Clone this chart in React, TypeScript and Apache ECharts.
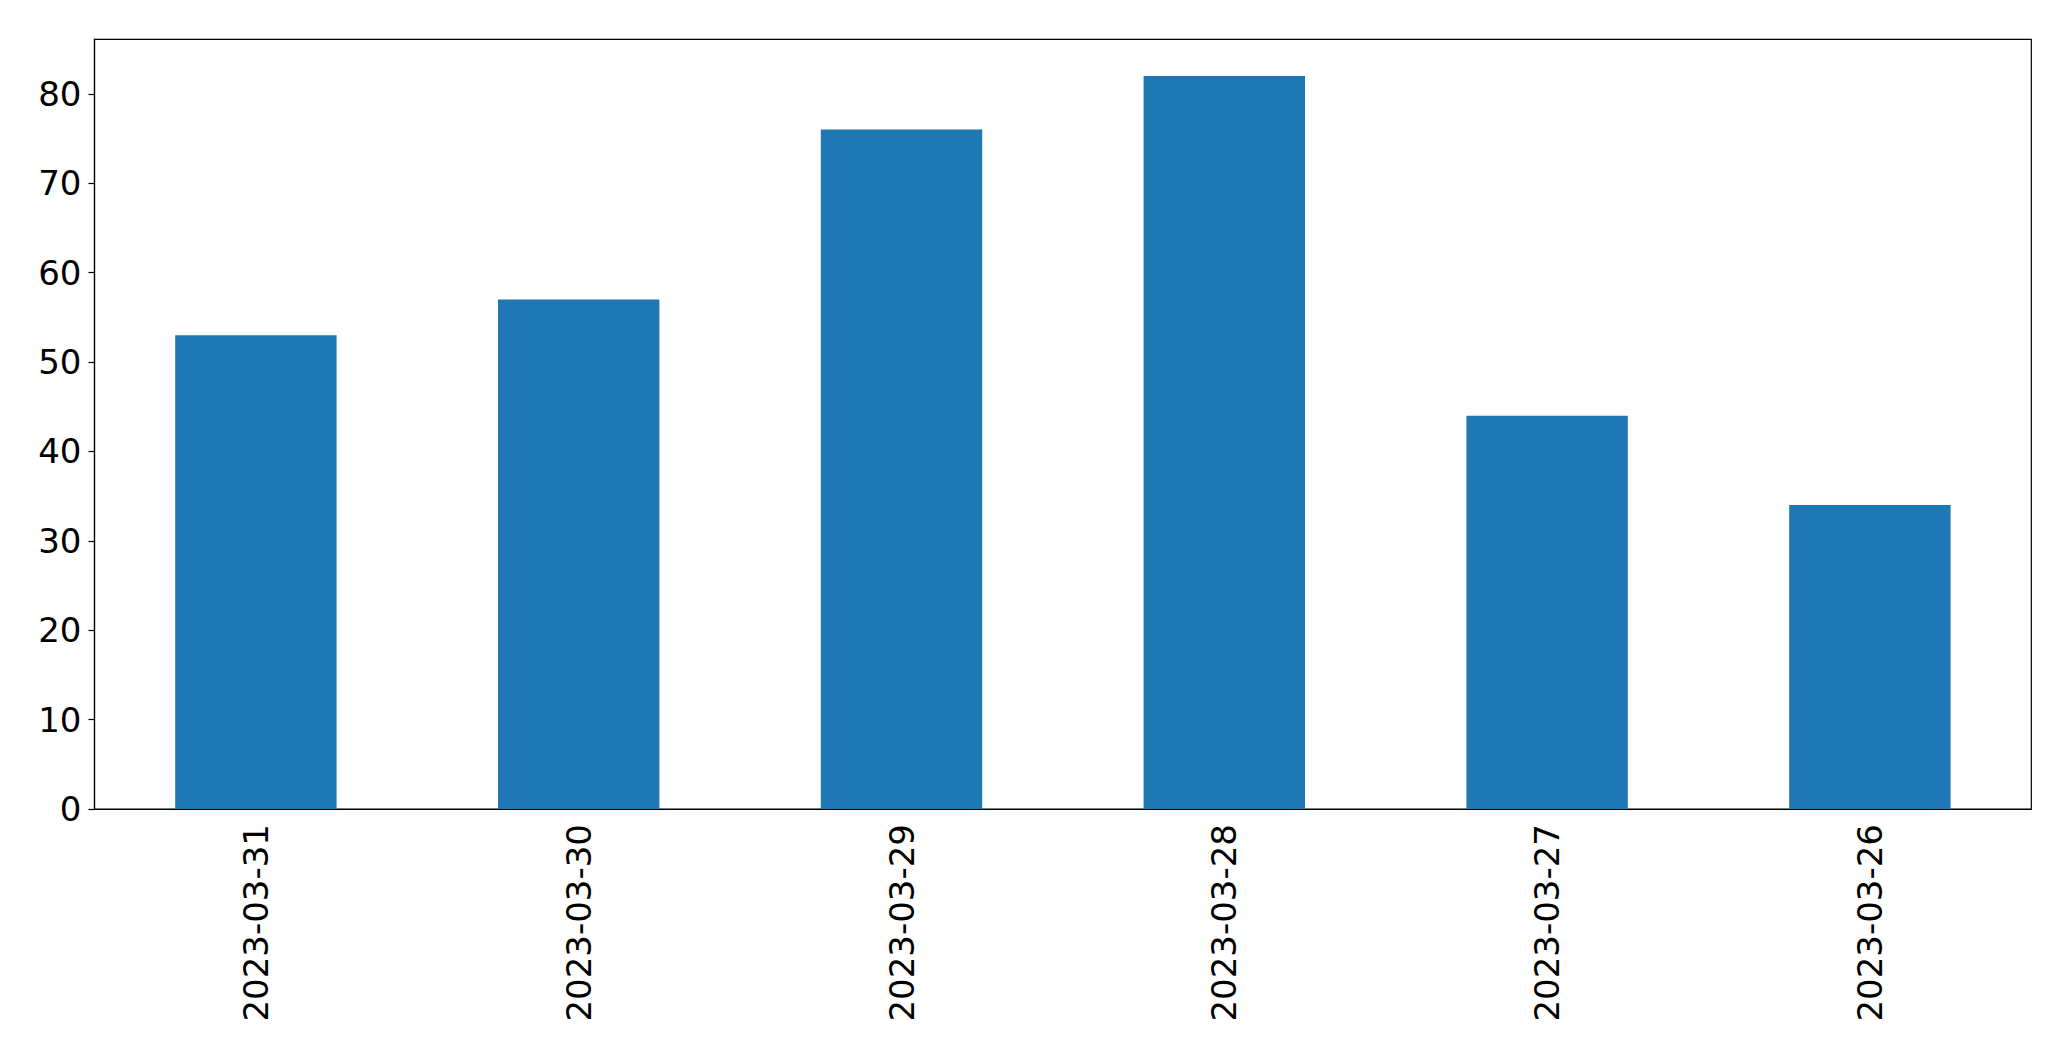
import React, { useEffect, useRef } from "react";
import * as echarts from "echarts";

const categories = ["2023-03-31", "2023-03-30", "2023-03-29", "2023-03-28", "2023-03-27", "2023-03-26"];
const values = [53, 57, 76, 82, 44, 34];
const yTicks = [0, 10, 20, 30, 40, 50, 60, 70, 80];

export default function App() {
  const ref = useRef<HTMLDivElement>(null);
  useEffect(() => {
    if (!ref.current) return;
    const chart = echarts.init(ref.current, null, { renderer: "svg" });
    const font = "DejaVu Sans";
    chart.setOption({
      animation: false,
      backgroundColor: "#fff",
      grid: {
        left: 94.5,
        top: 39.3,
        right: 39.7,
        bottom: 252,
        show: true,
        borderColor: "#000",
        borderWidth: 1.2,
        backgroundColor: "transparent",
      },
      xAxis: {
        type: "category",
        data: categories,
        boundaryGap: true,
        axisLine: { lineStyle: { color: "#000", width: 1.2 } },
        axisTick: { alignWithLabel: true, length: 6, lineStyle: { color: "#000", width: 1.2 } },
        axisLabel: {
          rotate: 90,
          fontSize: 34,
          fontFamily: font,
          color: "#000",
          margin: 15,
          interval: 0,
        },
        splitLine: { show: false },
      },
      yAxis: {
        type: "value",
        min: 0,
        max: 86.1,
        interval: 10,
        axisLine: { show: true, lineStyle: { color: "#000", width: 1.2 } },
        axisTick: { show: true, length: 6, lineStyle: { color: "#000", width: 1.2 }, customValues: yTicks },
        axisLabel: { fontSize: 34, fontFamily: font, color: "#000", margin: 13, customValues: yTicks },
        splitLine: { show: false },
      },
      series: [
        {
          type: "bar",
          data: values,
          barWidth: "50%",
          itemStyle: { color: "#1f77b4" },
        },
      ],
    });
    return () => chart.dispose();
  }, []);
  return (
    <div
      ref={ref}
      style={{ position: "fixed", left: 0, top: 0, width: 2071, height: 1061, background: "#fff" }}
    />
  );
}
